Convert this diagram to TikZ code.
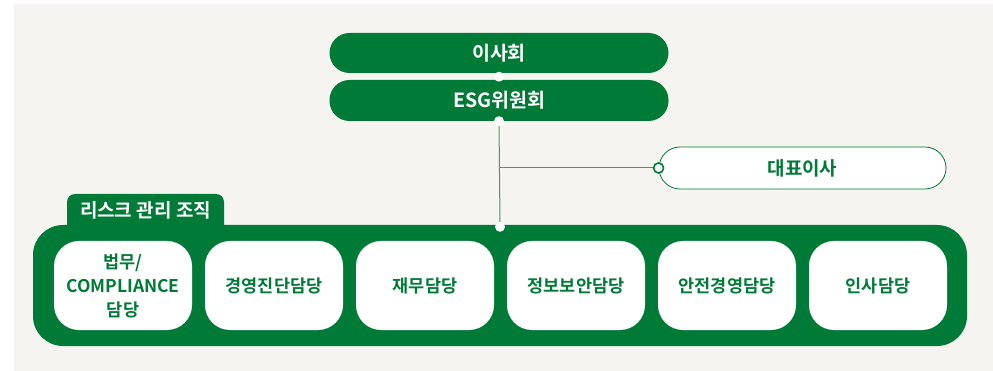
\documentclass[tikz,border=0pt]{standalone}
\usepackage{fontspec}
\setmainfont{Noto Sans CJK KR}[BoldFont={Noto Sans CJK KR Bold}]
\definecolor{esggreen}{HTML}{007A37}
\definecolor{linegreen}{HTML}{3E9A66}
\definecolor{paper}{HTML}{F5F4F0}
\begin{document}
\begin{tikzpicture}[x=1pt, y=-1pt,
    pill/.style={fill=esggreen, text=white, rounded corners=20pt, minimum width=339pt, minimum height=40pt, inner sep=0pt, font=\bfseries\fontsize{19.5}{22}\selectfont},
    dept/.style={fill=white, text=esggreen, rounded corners=25pt, minimum width=138pt, minimum height=89pt, inner sep=0pt, align=center, font=\bfseries\fontsize{17.5}{24}\selectfont},
    link/.style={linegreen, line width=1pt}]
    \useasboundingbox (0,0) rectangle (993,371);
    \fill[white] (0,0) rectangle (993,371);
    \fill[paper] (14,4) rectangle (993,371);
    % top of the chart
    \node[pill] (board) at (499,53) {이사회};
    \node[pill, minimum height=41pt] (esg) at (499,100.5) {ESG위원회};
    \node[draw=esggreen, line width=0.8pt, fill=white, text=esggreen, rounded corners=21pt, minimum width=287pt, minimum height=42pt, font=\bfseries\fontsize{19}{22}\selectfont] (ceo) at (802.5,168) {대표이사};
    % risk management frame
    \fill[esggreen, rounded corners=8pt] (67,240) |- (224,194) -- (224,240);
    \node[fill=esggreen, rounded corners=30pt, minimum width=934pt, minimum height=121pt] (org) at (500,285.5) {};
    \node[text=white, font=\bfseries\fontsize{19}{22}\selectfont] (orgtitle) at (145.5,210.5) {리스크 관리 조직};
    \draw[link] (esg.south) -- (org.north);
    \draw[link] (ceo.west) -- (ceo.west -| esg.south);
    \fill[white] (board.south) ++(0,3.5) circle (5pt);
    \fill[white] (esg.south) circle (5pt);
    \fill[white] (org.north) ++(0,2) circle (5pt);
    \draw[esggreen, fill=white, line width=1.6pt] (ceo.west) circle (5pt);
    % departments
    \node[dept] (legal) at (123,285.5) {법무/\\COMPLIANCE\\담당};
    \node[dept] (audit) at (274,285.5) {경영진단담당};
    \node[dept] (finance) at (425,285.5) {재무담당};
    \node[dept] (security) at (576,285.5) {정보보안담당};
    \node[dept] (safety) at (727,285.5) {안전경영담당};
    \node[dept] (hr) at (878,285.5) {인사담당};
\end{tikzpicture}
\end{document}
